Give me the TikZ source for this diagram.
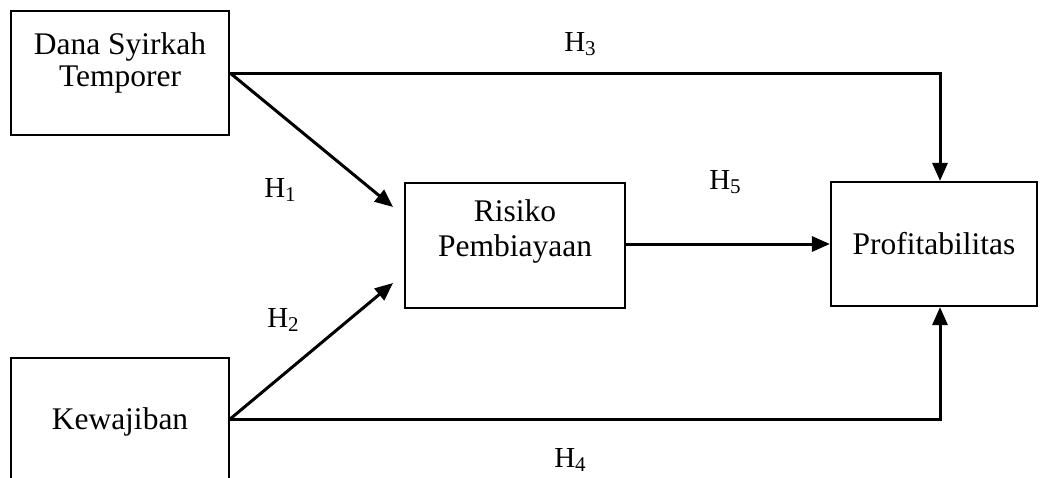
\documentclass[tikz,border=0pt]{standalone}
\usepackage{fontspec}
\setmainfont{Liberation Serif}
\usetikzlibrary{arrows.meta,calc}
\newcommand{\hyp}[1]{H\raisebox{-0.3ex}{\fontsize{21}{24}\selectfont #1}}
\tikzset{
  box/.style={draw, line width=2.2pt, rectangle, inner sep=0pt},
  lbl/.style={font=\fontsize{31.5}{32}\selectfont, align=center, inner sep=0pt},
  lbltall/.style={font=\fontsize{31.5}{35}\selectfont, align=center, inner sep=0pt},
  hlab/.style={font=\fontsize{29}{32}\selectfont, inner sep=0pt},
  conn/.style={line width=3pt, -{Triangle[length=18pt,width=15pt]}},
}
\begin{document}
\begin{tikzpicture}[x=1pt,y=-1pt]
\useasboundingbox (0,0) rectangle (1040,477);
% boxes
\node[box, minimum width=218pt, minimum height=124pt] (dst) at (120,73) {};
\node[box, minimum width=220pt, minimum height=125pt] (risk) at (515,245.5) {};
\node[box, minimum width=206pt, minimum height=124pt] (prof) at (934,244) {};
\node[box, minimum width=218pt, minimum height=122pt] (kew) at (120,419) {};
% texts
\node[lbl] (tdst) at (120,63) {Dana Syirkah\\Temporer};
\node[lbltall] (trisk) at (515,231) {Risiko\\Pembiayaan};
\node[lbl] (tprof) at (934,244) {Profitabilitas};
\node[lbl] (tkew) at (120,422) {Kewajiban};
% endpoints
\coordinate (h1end) at (393,207);
\coordinate (h2end) at (393,283);
% connectors
\draw[conn] (dst.east) -| ([xshift=6pt]prof.north);
\draw[conn] (dst.east) -- (h1end);
\draw[conn] (kew.east) -- (h2end);
\draw[conn] (kew.east) -| ([xshift=6pt]prof.south);
\draw[conn] (risk.east |- prof.west) -- (prof.west);
% hypothesis labels
\node[hlab] (h1) at (280,190) {\hyp{1}};
\node[hlab] (h2) at (283,320) {\hyp{2}};
\node[hlab] (h3) at (580,44) {\hyp{3}};
\node[hlab] (h4) at (570,460) {\hyp{4}};
\node[hlab] (h5) at (725,182) {\hyp{5}};
\end{tikzpicture}
\end{document}
